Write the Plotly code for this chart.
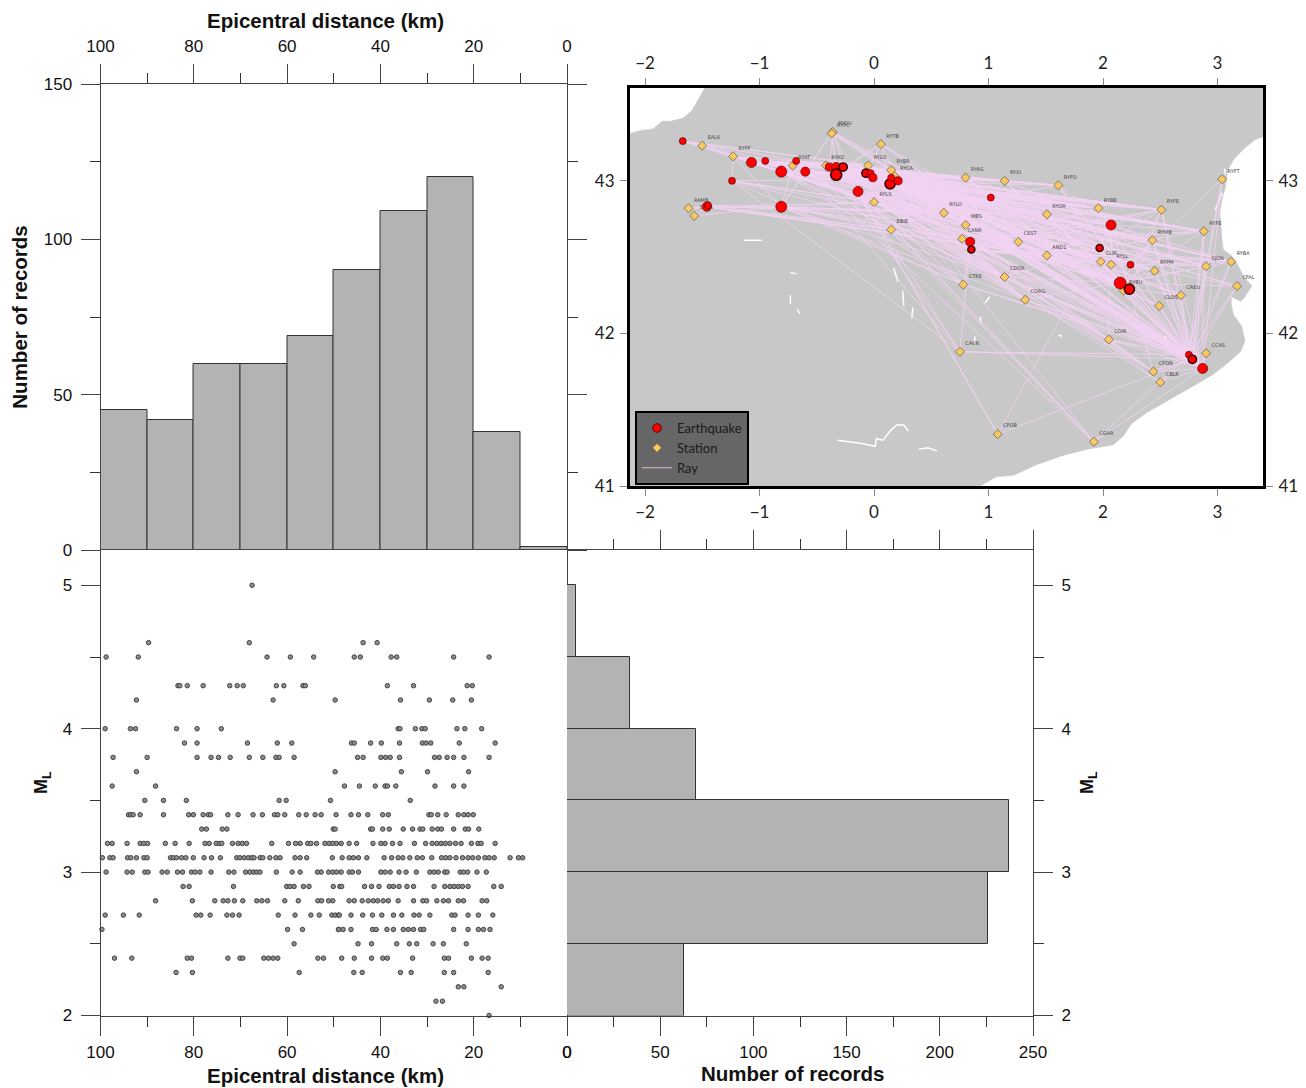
import plotly.graph_objects as go

W, H = 1306, 1088

# ---------- histogram data ----------
dist_bin_centers = [95, 85, 75, 65, 55, 45, 35, 25, 15, 5]
dist_counts = [45, 42, 60, 60, 69, 90, 109, 120, 38, 1]
ml_bin_centers = [2.25, 2.75, 3.25, 3.75, 4.25, 4.75]
ml_counts = [63, 226, 237, 69, 34, 5]

# ---------- distance vs magnitude records ----------
ml_rows = [5.0, 4.6, 4.5, 4.3, 4.2, 4.0, 3.9, 3.8, 3.7, 3.6, 3.5, 3.4, 3.3, 3.2, 3.1, 3.0,
           2.9, 2.8, 2.7, 2.6, 2.5, 2.4, 2.3, 2.2, 2.1, 2.0, 1.9]
km_rows = [
    [67.5],
    [89.7, 68.1, 43.7, 40.7],
    [98.8, 91.9, 64.3, 59.3, 54.3, 45.6, 44.3, 37.7, 36.5, 24.3, 16.7],
    [83.4, 83.0, 81.4, 78.0, 72.3, 70.7, 69.4, 62.3, 60.7, 56.6, 56.1, 38.5, 32.9, 21.4, 20.3],
    [92.3, 63.0, 49.7, 35.7, 29.5, 24.5, 20.5],
    [99.0, 93.6, 92.5, 83.7, 79.3, 74.1, 36.2, 35.8, 32.5, 31.1, 30.4, 23.6, 21.9, 18.3],
    [82.0, 79.3, 68.5, 62.1, 59.0, 46.2, 45.6, 42.1, 39.8, 35.9, 31.0, 30.2, 29.2, 23.1, 15.4],
    [97.3, 90.0, 79.3, 76.3, 74.7, 72.2, 68.1, 65.2, 62.4, 61.7, 58.5, 44.9, 43.7, 39.9, 38.9,
     37.9, 35.9, 28.4, 27.4, 25.7, 24.3, 22.1, 16.7],
    [92.3, 49.7, 35.5, 29.9, 21.1],
    [97.5, 88.2, 47.7, 44.5, 41.1, 39.0, 38.5, 36.7, 28.3, 24.3, 22.1],
    [90.5, 86.5, 81.6, 61.7, 60.2, 50.7, 33.6],
    [94.0, 93.5, 93.0, 91.5, 86.5, 81.1, 80.1, 78.0, 76.9, 76.4, 72.7, 70.5, 67.3, 65.3, 62.7, 62.0,
     60.5, 57.5, 55.9, 54.0, 52.7, 49.5, 46.3, 44.7, 42.7, 39.5, 38.3, 29.6, 29.1, 27.7, 25.9, 23.3,
     22.1, 21.2, 20.1],
    [78.3, 77.3, 73.9, 72.9, 50.1, 49.7, 42.1, 41.7, 39.5, 38.1, 35.1, 33.1, 31.5, 30.9, 28.9, 27.7,
     26.9, 24.3, 21.8, 21.1, 18.9],
    [98.5, 97.5, 94.3, 91.5, 90.7, 89.9, 86.1, 84.0, 81.0, 77.6, 76.7, 75.2, 74.5, 74.0, 71.7, 70.5,
     69.6, 68.7, 63.3, 59.7, 58.2, 57.2, 55.6, 54.9, 53.7, 51.9, 51.0, 50.2, 49.4, 48.4, 46.7, 45.1,
     41.6, 39.9, 39.0, 37.4, 35.8, 32.7, 30.3, 28.9, 27.9, 27.0, 26.1, 25.1, 23.9, 22.7, 20.5, 19.1,
     18.4, 15.4],
    [99.6, 98.0, 97.3, 94.2, 93.5, 92.3, 90.7, 90.0, 85.0, 84.4, 83.7, 82.6, 81.7, 80.1, 77.8, 76.2,
     74.3, 70.8, 70.1, 69.2, 68.3, 67.6, 67.1, 65.8, 65.2, 63.7, 62.4, 61.5, 58.3, 57.2, 55.8, 50.3,
     48.2, 46.7, 45.8, 44.7, 42.9, 39.2, 37.6, 36.2, 35.2, 33.7, 32.1, 31.0, 29.0, 26.9, 26.0, 25.1,
     23.8, 22.4, 21.2, 20.2, 19.0, 17.6, 16.7, 15.6, 12.2, 10.4, 9.5],
    [98.8, 94.3, 93.2, 90.5, 89.8, 86.8, 85.7, 83.5, 82.4, 80.5, 79.7, 78.7, 76.3, 72.5, 71.4, 68.9,
     68.0, 67.2, 66.5, 65.8, 62.3, 58.9, 57.2, 53.5, 52.7, 51.1, 50.2, 49.4, 48.4, 46.7, 46.0, 44.7,
     39.9, 39.0, 37.9, 36.0, 34.5, 32.3, 29.4, 28.5, 27.6, 26.2, 25.7, 22.9, 22.2, 21.3, 19.3, 17.3],
    [82.3, 81.0, 71.5, 60.1, 59.4, 58.5, 56.5, 55.3, 50.1, 48.7, 48.3, 43.4, 41.9, 40.3, 38.1, 37.2,
     36.0, 34.3, 32.9, 28.5, 26.2, 25.1, 24.2, 23.3, 22.4, 21.2, 15.7, 14.1],
    [88.2, 80.3, 75.5, 73.7, 72.7, 71.3, 69.5, 66.5, 65.4, 64.2, 60.5, 57.6, 53.4, 52.6, 51.1, 50.2,
     46.7, 45.6, 43.9, 42.6, 41.5, 40.6, 39.4, 38.3, 36.2, 32.9, 30.9, 30.1, 27.9, 26.5, 25.4, 23.3,
     22.2, 18.2, 17.2],
    [99.0, 95.1, 91.7, 79.5, 78.5, 76.5, 72.9, 71.7, 70.3, 61.9, 58.3, 54.9, 53.1, 50.4, 49.7, 49.0,
     48.8, 46.3, 43.8, 41.7, 39.7, 37.2, 35.4, 32.8, 31.7, 29.4, 24.7, 24.0, 21.2, 19.0, 15.9],
    [99.7, 59.9, 56.7, 49.0, 48.9, 48.0, 46.3, 41.7, 40.9, 38.6, 37.2, 35.1, 34.0, 32.9, 31.4, 30.7,
     24.3, 21.2, 19.0, 17.9, 16.5],
    [58.5, 44.8, 41.9, 36.5, 33.8, 32.2, 28.7, 26.5, 21.6],
    [97.0, 93.3, 81.4, 80.5, 72.7, 70.1, 69.5, 65.0, 64.0, 63.0, 62.0, 53.4, 52.2, 48.3, 45.6, 41.9,
     39.5, 38.5, 33.1, 26.3, 25.4, 20.5, 18.2, 16.9],
    [83.8, 80.3, 57.4, 45.7, 43.9, 35.7, 33.4, 26.3, 24.3, 16.9],
    [23.3, 22.1, 14.1],
    [28.1, 26.7],
    [16.7],
    [26.3],
]

# ---------- map data: coast outline (lon, lat) ----------
land_lon = [-2.144, -2.13, -2.04, -1.93, -1.85, -1.78, -1.67, -1.59, -1.53, -1.48, -1.47, 3.41,
            3.41, 3.40, 3.33, 3.23, 3.14, 3.09, 3.07, 3.04, 3.02, 3.04, 3.05, 3.12, 3.17, 3.23, 3.30,
            3.23, 3.20, 3.12, 3.12, 3.14, 3.21, 3.24, 3.20, 3.08, 2.96, 2.80, 2.59, 2.38, 2.25, 2.18,
            2.09, 1.86, 1.65, 1.42, 1.22, 1.07, 0.95, 0.93, -2.144]
land_lat = [43.31, 43.31, 43.33, 43.34, 43.39, 43.39, 43.41, 43.46, 43.54, 43.61, 43.62, 43.62,
            43.29, 43.29, 43.27, 43.21, 43.14, 43.07, 42.96, 42.88, 42.79, 42.61, 42.55, 42.51, 42.46,
            42.37, 42.31, 42.23, 42.21, 42.24, 42.19, 42.12, 42.05, 41.95, 41.88, 41.80, 41.73, 41.66,
            41.57, 41.48, 41.41, 41.33, 41.27, 41.24, 41.20, 41.14, 41.07, 41.06, 41.01, 41.0, 41.0]

# inland water (lon, lat) strokes
water_lon = [[-0.32, -0.21, -0.12, 0.01, 0.02, 0.08, 0.14, 0.20, 0.26, 0.30],
             [0.39, 0.47, 0.55], [-1.14, -0.98], [-0.73, -0.68], [-0.73, -0.73], [-0.67, -0.65],
             [0.17, 0.21], [0.25, 0.26], [0.34, 0.33], [1.01, 0.97], [0.93, 0.93], [0.88, 0.88],
             [1.61, 1.64], [2.53, 2.56], [3.04, 2.98], [3.06, 3.07]]
water_lat = [[41.30, 41.29, 41.28, 41.26, 41.31, 41.30, 41.36, 41.40, 41.40, 41.36],
             [41.24, 41.25, 41.23], [42.61, 42.61], [42.40, 42.39], [42.25, 42.19], [42.16, 42.13],
             [42.43, 42.34], [42.28, 42.18], [42.17, 42.10], [42.24, 42.20], [42.11, 42.07], [41.98, 41.93],
             [41.99, 41.98], [41.98, 41.97], [42.92, 42.81], [43.08, 43.04]]

# stations
st_names = ["EALK", "RYPF", "RYAT", "RAMB", "SARA", "RYDU", "RYPC", "RYTB", "RYAD", "RYLO", "RYBR", "RYCA",
            "RYLS", "EBIE", "RYLU", "RYAS", "RYIU", "RYFO", "RYOR", "RYBE", "RYFE", "RYPE", "RYFT", "RYBA",
            "SJON", "CFAL", "RYPM", "RYMB", "RYLL", "CUR", "CREU", "CLOS", "RYBU", "CORG", "CDOR", "CTRE",
            "AND1", "CEST", "CANR", "MBS", "CAVN", "COIR", "CCAS", "CFON", "CBLR", "CPOB", "CGAR"]
st_lon = [-1.50, -1.23, -0.71, -1.62, -1.57, -0.36, -0.37, 0.06, -0.42, -0.05, 0.15, 0.18,
          0.00, 0.15, 0.61, 0.80, 1.14, 1.61, 1.51, 1.96, 2.51, 2.88, 3.04, 3.12,
          2.90, 3.17, 2.45, 2.43, 2.07, 1.98, 2.68, 2.49, 2.18, 1.32, 1.14, 0.78,
          1.51, 1.26, 0.77, 0.80, 0.75, 2.05, 2.90, 2.44, 2.50, 1.08, 1.92]
st_lat = [43.23, 43.16, 43.10, 42.82, 42.77, 43.32, 43.31, 43.24, 43.10, 43.10, 43.07, 43.03,
          42.86, 42.68, 42.79, 43.02, 43.00, 42.97, 42.78, 42.82, 42.81, 42.67, 43.01, 42.47,
          42.44, 42.31, 42.41, 42.61, 42.45, 42.47, 42.25, 42.18, 42.28, 42.22, 42.37, 42.32,
          42.51, 42.60, 42.62, 42.71, 41.88, 41.96, 41.87, 41.75, 41.68, 41.34, 41.29]

# earthquakes
eq_lon = [-1.67, -1.46, -1.45, -1.24, -1.07, -0.95, -0.81, -0.81, -0.68, -0.60, -0.39, -0.33, -0.27, -0.33,
          -0.14, -0.07, -0.03, -0.01, 0.14, 0.21, 0.15, 1.02, 2.07, 1.97, 2.24, 2.15, 2.23, 0.84, 0.85,
          2.75, 2.78, 2.87]
eq_lat = [43.26, 42.83, 42.84, 43.00, 43.12, 43.13, 43.06, 42.83, 43.13, 43.06, 43.09, 43.09, 43.09, 43.04,
          42.93, 43.05, 43.05, 43.02, 42.98, 43.00, 43.02, 42.89, 42.71, 42.56, 42.45, 42.33, 42.29, 42.60,
          42.55, 41.86, 41.83, 41.77]
eq_ml = [3.0, 3.7, 3.0, 3.0, 4.0, 3.0, 4.3, 4.3, 3.0, 3.7, 3.4, 3.7, 3.4, 4.3,
         4.0, 3.4, 3.0, 3.4, 4.0, 3.4, 3.0, 3.0, 4.0, 3.0, 3.0, 4.6, 4.0, 3.7,
         3.0, 3.0, 3.4, 4.0]
eq_repeated = [12, 13, 15, 18, 23, 26, 28, 30]

# stations that recorded each earthquake (index into eq_*)
rays_by_event = {
    0: "EALK RYPF RYAT RYAD RYLO RYLS RYAS RYLU",
    1: "RAMB SARA RYLS RYLU CANR AND1 CUR RYLL",
    2: "RAMB RYOR EBIE",
    3: "RYPF RYAS RYLS RYLU MBS CANR CTRE CAVN",
    4: "RYPF RYAT RYAD RYLO RYBR RYLS RYAS RYIU RYOR RYBE RYLU MBS CEST",
    5: "RYPF RYAD RYLO RYAS RYIU RYFO RYOR RYBE RYFE",
    6: "RYAT RYAD RYLS RYAS RYIU RYOR RYBE RYFE RYPE AND1 CDOR CEST CORG CTRE",
    7: "RYPF RYAT RYPC RYDU RAMB SARA RYLS EBIE RYLU MBS CANR CEST AND1 CORG CDOR CTRE",
    8: "RYPF RYAD RYLO RYIU RYFO RYBE RYFE",
    9: "RYPF RYAD RYLS RYAS RYOR RYBE CTRE CAVN CGAR CFON CORG CDOR RYPE",
    10: "RYDU RYLO RYCA RYAS RYIU RYFO RYOR RYBE RYFE RYPE RYMB CTRE CDOR CUR",
    11: "RYPC RYLO RYBR RYAS RYIU RYOR RYBE RYFE RYPE RYBA RYMB RYPM CUR RYLL AND1 CORG CGAR",
    12: "RYDU RYTB RYAS RYFO RYBE RYFE SJON RYMB CEST CDOR RYPM CFON CPOB",
    13: "RYPC RYTB RYLO RYCA RYIU RYOR RYFE RYPE RYBA SJON RYMB RYLL AND1 CORG CAVN CGAR CLOS COIR",
    14: "RYDU RYTB RYLS RYLU RYOR RYBE RYMB RYPM CUR RYLL CDOR CTRE CAVN CGAR CPOB CFON CBLR CREU COIR",
    15: "RYTB RYLO RYBR RYAS RYIU RYFE RYPE RYBA SJON CFAL RYPM RYBU CORG CDOR CLOS",
    16: "RYBR RYCA RYAS RYFO RYBE RYPE RYMB CUR CEST CTRE",
    17: "RYLS RYLU RYOR RYFE SJON RYPM RYLL AND1 CORG CBLR CFON CREU",
    18: "RYTB RYCA RYLS RYLU RYOR RYBE RYFE RYPE RYBA SJON CFAL RYPM RYMB CUR RYLL CDOR CORG COIR CLOS CFON CGAR CCAS",
    19: "RYTB RYBR RYAS RYIU RYFO RYBE RYFE RYMB SJON AND1 CEST CREU",
    20: "RYBR RYCA RYLS RYOR RYPE RYBA CUR RYLL CORG CFON",
    21: "RYAS RYIU RYFO RYLU MBS RYOR CEST RYBE RYFE RYPE SJON RYPM",
    22: "RYFE RYPE RYBE RYMB RYBA RYPM CUR RYLL RYAS RYIU RYFO RYOR RYLO RYCA RYLS RYAD RYPF CPOB CDOR AND1 CEST COIR CFON",
    23: "RYBE RYFE RYPE RYBA RYLL CUR AND1 RYOR CEST CDOR CORG RYLS RYCA RYAD RYAT RYLU",
    24: "RYFE RYMB SJON RYPM RYLL CUR CFAL CREU RYFT RYBA RYOR RYLS RYLO",
    25: "RYPE RYBA SJON CFAL RYPM RYMB RYLL CUR RYBU AND1 CEST CDOR CORG RYLU MBS CANR RYOR RYAS RYIU RYFO RYLS RYLO RYBR RYCA RYAD RYAT RYPF EALK RYPC RYTB",
    26: "RYFE RYBE RYPM RYMB CUR RYLL RYBU CREU CLOS AND1 CEST RYLU MBS RYOR RYAS RYIU RYLS RYLO RYCA RYBR RYAD RYPF RYDU",
    27: "MBS CANR CEST CTRE AND1 RYLS RYLU RYOR RYBE RYFE RYPE RYBA SJON CAVN",
    28: "CANR MBS CDOR AND1 CEST RYBE RYFE RYPE RYBA SJON RYPM CUR CORG RYLL",
    29: "CCAS CFON COIR CREU CLOS CUR RYLL RYPM RYMB SJON RYBE RYFE RYPE RYFT RYBA CFAL CBLR RYBU AND1 CEST CDOR CORG CTRE MBS CANR RYLU RYLS RYAS RYIU RYFO RYOR EBIE RYBR RYLO RYAD RYTB CAVN CGAR",
    30: "CCAS CFON COIR CREU CLOS CBLR CUR RYLL RYPM RYMB SJON RYFE RYPE RYFT CFAL RYBA AND1 CEST CDOR CORG MBS CANR RYLU RYLS RYAS RYOR EBIE RYBR RYCA RYLO RYAD RYPC RYDU RYTB CAVN CPOB CTRE RYBE RYIU",
    31: "CCAS CFON CBLR COIR CLOS RYFE RYPE RYFT CUR RYLL RYPM RYMB CDOR AND1 CEST RYOR RYLS RYLO RYAD RYDU RYPC RYCA RYLU MBS RYAS RYIU RYFO CGAR",
}

# ---------- titles ----------
dist_title = "<b>Epicentral distance (km)</b>"
count_title = "<b>Number of records</b>"
ml_title = "<b>M<sub>L</sub></b>"

# ---------- layout helpers (pixel rectangle -> paper domain) ----------
def xdom(a, b):
    return [a / W, b / W]

def ydom(top, bottom):
    return [1 - bottom / H, 1 - top / H]

AXC = "#444444"
TXT = "#111111"
FONT = "Liberation Sans"
tickfont = dict(family=FONT, size=17, color=TXT)
titlefont = dict(family=FONT, size=20.5, color="#111111")
mlfont = dict(family=FONT, size=18, color="#111111")

def ax_common(**kw):
    d = dict(automargin=False, showgrid=False, zeroline=False, showline=True, linecolor=AXC, linewidth=1,
             ticks="outside", ticklen=19, tickwidth=1, tickcolor=AXC, tickfont=tickfont, ticklabelstandoff=5)
    d.update(kw)
    return d

def minor(step, start=0):
    return dict(ticks="outside", ticklen=10, dtick=step, tick0=start, tickcolor="#333333", tickwidth=1)

def title_note(text, px, py):
    return dict(text=text, x=px / W, y=1 - py / H, xref="paper", yref="paper", xanchor="center", yanchor="middle",
                showarrow=False, font=titlefont)

fig = go.Figure()

# top histogram
fig.add_trace(go.Bar(x=dist_bin_centers, y=dist_counts, width=10, marker=dict(color="#b3b3b3", line=dict(color="#333333", width=1)),
                     xaxis="x", yaxis="y", showlegend=False))
# scatter
xs, ys = [], []
for m, row in zip(ml_rows, km_rows):
    xs += row
    ys += [m] * len(row)
fig.add_trace(go.Scatter(x=xs, y=ys, mode="markers", cliponaxis=False, xaxis="x2", yaxis="y2", showlegend=False,
                         marker=dict(size=4.5, color="#8c8c8c", line=dict(color="#444444", width=1))))
# right histogram
fig.add_trace(go.Bar(y=ml_bin_centers, x=ml_counts, width=0.5, orientation="h",
                     marker=dict(color="#b3b3b3", line=dict(color="#333333", width=1)),
                     xaxis="x3", yaxis="y3", showlegend=False))

# map: land
fig.add_trace(go.Scatter(x=land_lon, y=land_lat, mode="lines", fill="toself", fillcolor="#c8c8c8",
                         line=dict(color="#c8c8c8", width=0.5), xaxis="x5", yaxis="y5", showlegend=False, hoverinfo="skip"))
for wx, wy in zip(water_lon, water_lat):
    fig.add_trace(go.Scatter(x=wx, y=wy, mode="lines", line=dict(color="white", width=1.5), xaxis="x5", yaxis="y5",
                             showlegend=False, hoverinfo="skip"))
# map: rays
st_pos = {n: (a, b) for n, a, b in zip(st_names, st_lon, st_lat)}
rx, ry = [], []
for ev, names in rays_by_event.items():
    for n in names.split():
        rx += [eq_lon[ev], st_pos[n][0], None]
        ry += [eq_lat[ev], st_pos[n][1], None]
fig.add_trace(go.Scatter(x=rx, y=ry, mode="lines", name="Ray", line=dict(color="#f3d3f3", width=0.8),
                         xaxis="x5", yaxis="y5", legendrank=3, hoverinfo="skip"))
# map: stations
fig.add_trace(go.Scatter(x=st_lon, y=st_lat, text=st_names, mode="markers+text", name="Station", textposition="top right",
                         textfont=dict(family="DejaVu Sans", size=5, color="#444444"), cliponaxis=True,
                         marker=dict(symbol="diamond", size=7, color="#fbc860", line=dict(color="#555555", width=0.7)),
                         xaxis="x5", yaxis="y5", legendrank=2))
# map: earthquakes
eq_sizes = [7 + (m - 3.0) * 3.1 for m in eq_ml]
eq_edges = [1.6 if i in eq_repeated else 0.6 for i in range(len(eq_ml))]
fig.add_trace(go.Scatter(x=eq_lon, y=eq_lat, mode="markers", name="Earthquake",
                         marker=dict(size=eq_sizes, color="#ff0000", opacity=1, line=dict(color="#3a0000", width=eq_edges)),
                         xaxis="x5", yaxis="y5", legendrank=1))
# companion axes of the map frame (labels on top and right)
fig.add_trace(go.Scatter(x=[], y=[], xaxis="x6", yaxis="y6", showlegend=False, hoverinfo="skip"))

X0, X1, X2 = 100.5, 567, 1033
Y0, Y1, Y2 = 84, 550, 1015.5
ml_top = 2 + (Y2 - Y1) / 143.4
map_font = dict(family="Lato", size=17, color="#222222")
map_lon_range = [-2.131, 3.397]
map_lat_range = [41.0, 43.608]

def map_ax(**kw):
    d = dict(automargin=False, showgrid=False, zeroline=False, showline=True, linecolor="black", linewidth=3, mirror=True,
             ticks="outside", ticklen=7, tickwidth=1, tickcolor="#888888", tickfont=map_font,
             ticksuffix="°", tickmode="array", ticklabelstandoff=2)
    d.update(kw)
    return d

fig.update_layout(
    template="none",
    width=W, height=H, autosize=False, margin=dict(l=0, r=0, t=0, b=0),
    paper_bgcolor="white", plot_bgcolor="white", bargap=0,
    font=dict(family=FONT, size=16, color=TXT),
    xaxis=ax_common(domain=xdom(X0, X1), range=[100, 0], side="top", anchor="y", dtick=20, tick0=0, minor=minor(10)),
    yaxis=ax_common(domain=ydom(Y0, Y1), range=[0, 150], anchor="x", dtick=50, tick0=0, mirror="ticks", minor=minor(25),
                    title=dict(text=count_title, font=titlefont, standoff=10)),
    xaxis2=ax_common(domain=xdom(X0, X1), range=[100, 0], side="bottom", anchor="y2", dtick=20, tick0=0, minor=minor(10), mirror=True,
                     ticklabelstandoff=2),
    yaxis2=ax_common(domain=ydom(Y1, Y2), range=[2, ml_top], anchor="x2", dtick=1, tick0=2, minor=minor(0.5, 2), mirror=True,
                     title=dict(text=ml_title, font=mlfont, standoff=10)),
    xaxis3=ax_common(domain=xdom(X1, X2), range=[0, 250], side="bottom", anchor="y3", dtick=50, tick0=0, minor=minor(25), mirror="ticks",
                     ticklabelstandoff=2),
    yaxis3=ax_common(domain=ydom(Y1, Y2), range=[2, ml_top], anchor="x3", side="right", dtick=1, tick0=2, minor=minor(0.5, 2),
                     title=dict(text=ml_title, font=mlfont, standoff=10)),
    xaxis5=map_ax(domain=xdom(630, 1263), range=map_lon_range, anchor="y5", side="bottom", tickvals=[-2, -1, 0, 1, 2, 3]),
    yaxis5=map_ax(domain=ydom(88, 486), range=map_lat_range, anchor="x5", side="left", tickvals=[41, 42, 43]),
    xaxis6=map_ax(domain=xdom(630, 1263), range=map_lon_range, anchor="y6", overlaying="x5", side="top", tickvals=[-2, -1, 0, 1, 2, 3]),
    yaxis6=map_ax(domain=ydom(88, 486), range=map_lat_range, anchor="x6", overlaying="y5", side="right", tickvals=[41, 42, 43]),
    legend=dict(x=635 / W, y=1 - 411 / H, xanchor="left", yanchor="top", bgcolor="#666666", bordercolor="black", borderwidth=2,
                font=dict(family="Lato", size=13, color="#1a1a1a"), itemwidth=30, traceorder="normal",
                entrywidth=78, entrywidthmode="pixels"),
    annotations=[title_note(dist_title, 325, 21), title_note(dist_title, 325, 1075), title_note(count_title, 792.5, 1073)],
)

fig.write_html("out.html", config={"displayModeBar": False},
               post_script="document.body.style.margin='0';document.documentElement.style.overflow='hidden';")
